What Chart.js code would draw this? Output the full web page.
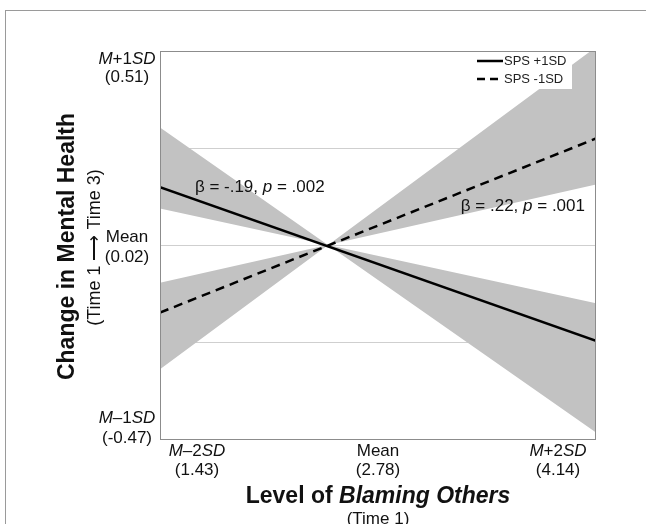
<!DOCTYPE html>
<html>
<head>
<meta charset="utf-8">
<script src="https://cdn.jsdelivr.net/npm/chart.js@4.4.0/dist/chart.umd.min.js"></script>
<style>
  html, body { margin: 0; padding: 0; background: #fff; overflow: hidden; }
  #wrap { position: relative; width: 646px; height: 524px; }
  #frame { position: absolute; left: 5px; top: 10px; width: 700px; height: 600px; border: 1px solid #9a9a9a; }
  canvas { position: absolute; left: 0; top: 0; }
</style>
</head>
<body>
<div id="wrap">
  <div id="frame"></div>
  <canvas id="chart" width="646" height="524"></canvas>
</div>
<script>
/* ── Data (SD units: x = Blaming Others, y = change in mental health) ── */
const xLevels      = [-2, 2];
const spsHigh      = [0.30, -0.49];
const spsHighBandA = [0.607, -0.962];
const spsHighBandB = [0.19, -0.297];
const spsLow       = [-0.345, 0.55];
const spsLowBandA  = [-0.636, 1.02];
const spsLowBandB  = [-0.192, 0.313];

const seriesNames  = ['SPS +1SD', 'SPS -1SD'];

const yGridValues  = [-1, -0.5, 0, 0.5, 1];
const yLabelTicks  = [-1, 0, 1];
const yTickNames   = ['*M*–1*SD*', 'Mean', '*M*+1*SD*'];
const yTickRaw     = ['(-0.47)', '(0.02)', '(0.51)'];

const xLabelTicks  = [-2, 0, 2];
const xTickNames   = ['*M*–2*SD*', 'Mean', '*M*+2*SD*'];
const xTickRaw     = ['(1.43)', '(2.78)', '(4.14)'];

const notes = [
    { text: 'β = -.19, *p* = .002', x: -1.68, y: 0.30 },
    { text: 'β = .22, *p* = .001',  x: 0.76,  y: 0.203 }
];

const FONT  = '"Liberation Sans", Arial, Helvetica, sans-serif';
const BAND  = '#c2c2c2';
const GRID  = '#cfcfcf';
const FRAME = '#8c8c8c';
const INK   = '#111111';

const pts = ys => ys.map((y, i) => ({ x: xLevels[i], y }));

/* ── text helper: '*' toggles italic ── */
function drawRich(ctx, str, x, y, size, weight, align) {
    const parts = str.split('*').map((t, i) => ({ t, it: i % 2 === 1 })).filter(p => p.t);
    const fontOf = p => `${p.it ? 'italic ' : ''}${weight} ${size}px ${FONT}`;
    let w = 0;
    parts.forEach(p => { ctx.font = fontOf(p); p.w = ctx.measureText(p.t).width; w += p.w; });
    let cx = align === 'center' ? x - w / 2 : align === 'right' ? x - w : x;
    ctx.textAlign = 'left';
    ctx.textBaseline = 'middle';
    parts.forEach(p => { ctx.font = fontOf(p); ctx.fillText(p.t, cx, y); cx += p.w; });
}

/* ── frame, legend, notes, axis labels ── */
const decorPlugin = {
    id: 'decor',
    afterDatasetsDraw(chart) {
        const { ctx, chartArea: a, scales: { x, y } } = chart;
        ctx.save();
        ctx.fillStyle = INK;

        // plot frame
        ctx.strokeStyle = FRAME;
        ctx.lineWidth = 1;
        ctx.strokeRect(a.left + 0.5, a.top + 0.5, a.right - a.left - 1, a.bottom - a.top - 1);

        // legend box
        const lx = a.right - 121, ly = a.top;
        ctx.fillStyle = '#ffffff';
        ctx.fillRect(lx, ly + 1, 97, 37);
        ctx.strokeStyle = '#000';
        ctx.lineWidth = 2.5;
        ctx.beginPath(); ctx.moveTo(lx + 2, ly + 10); ctx.lineTo(lx + 28, ly + 10); ctx.stroke();
        ctx.setLineDash([8, 5]);
        ctx.beginPath(); ctx.moveTo(lx + 2, ly + 28); ctx.lineTo(lx + 28, ly + 28); ctx.stroke();
        ctx.setLineDash([]);
        ctx.fillStyle = '#222';
        drawRich(ctx, seriesNames[0], lx + 29, ly + 10, 13, 'normal', 'left');
        drawRich(ctx, seriesNames[1], lx + 29, ly + 28, 13, 'normal', 'left');

        // slope notes
        ctx.fillStyle = INK;
        notes.forEach(n => drawRich(ctx, n.text, x.getPixelForValue(n.x), y.getPixelForValue(n.y), 17, 'normal', 'left'));

        // y tick labels
        const yOff = [[-22, -2], [-8, 12], [8, 26]];
        yLabelTicks.forEach((v, i) => {
            const py = y.getPixelForValue(v);
            drawRich(ctx, yTickNames[i], a.left - 33, py + yOff[i][0], 17, 'normal', 'center');
            drawRich(ctx, yTickRaw[i],   a.left - 33, py + yOff[i][1], 17, 'normal', 'center');
        });

        // x tick labels
        const xOff = [37, 0, -38];
        xLabelTicks.forEach((v, i) => {
            const px = x.getPixelForValue(v) + xOff[i];
            drawRich(ctx, xTickNames[i], px, a.bottom + 11, 17, 'normal', 'center');
            drawRich(ctx, xTickRaw[i],   px, a.bottom + 30, 17, 'normal', 'center');
        });

        // x title
        const xc = (a.left + a.right) / 2;
        drawRich(ctx, 'Level of *Blaming Others*', xc, a.bottom + 57, 23, 'bold', 'center');
        drawRich(ctx, '(Time 1)', xc, a.bottom + 79, 17, 'normal', 'center');

        // y title
        const yc = (a.top + a.bottom) / 2 + 1;
        ctx.translate(a.left - 92, yc);
        ctx.rotate(-Math.PI / 2);
        drawRich(ctx, 'Change in Mental Health', 0, 0, 23, 'bold', 'center');
        drawRich(ctx, '(Time 1 ⟶ Time 3)', -1, 27, 18, 'normal', 'center');
        ctx.restore();
    }
};

const lineBase  = { borderColor: '#000', borderWidth: 2.5, pointRadius: 0, fill: false, order: 0 };
const bandBase  = { borderWidth: 0, borderColor: 'rgba(0,0,0,0)', backgroundColor: BAND, pointRadius: 0, order: 1 };

new Chart(document.getElementById('chart'), {
    type: 'line',
    data: {
        datasets: [
            { ...lineBase, label: seriesNames[0], data: pts(spsHigh) },
            { ...lineBase, label: seriesNames[1], data: pts(spsLow), borderDash: [9, 6] },
            { ...bandBase, data: pts(spsHighBandA), fill: '+1' },
            { ...bandBase, data: pts(spsHighBandB), fill: false },
            { ...bandBase, data: pts(spsLowBandA), fill: '+1' },
            { ...bandBase, data: pts(spsLowBandB), fill: false }
        ]
    },
    options: {
        responsive: false,
        animation: false,
        devicePixelRatio: 1,
        layout: { padding: { left: 160, top: 51, right: 50, bottom: 84 } },
        plugins: { legend: { display: false }, tooltip: { enabled: false } },
        scales: {
            x: {
                type: 'linear', min: -2, max: 2,
                display: false
            },
            y: {
                min: -1, max: 1,
                afterBuildTicks: s => { s.ticks = yGridValues.map(v => ({ value: v })); },
                ticks: { display: false },
                grid: { drawTicks: false, color: c => Math.abs(c.tick.value) === 1 ? 'rgba(0,0,0,0)' : GRID },
                border: { display: false }
            }
        }
    },
    plugins: [decorPlugin]
});
</script>
</body>
</html>
